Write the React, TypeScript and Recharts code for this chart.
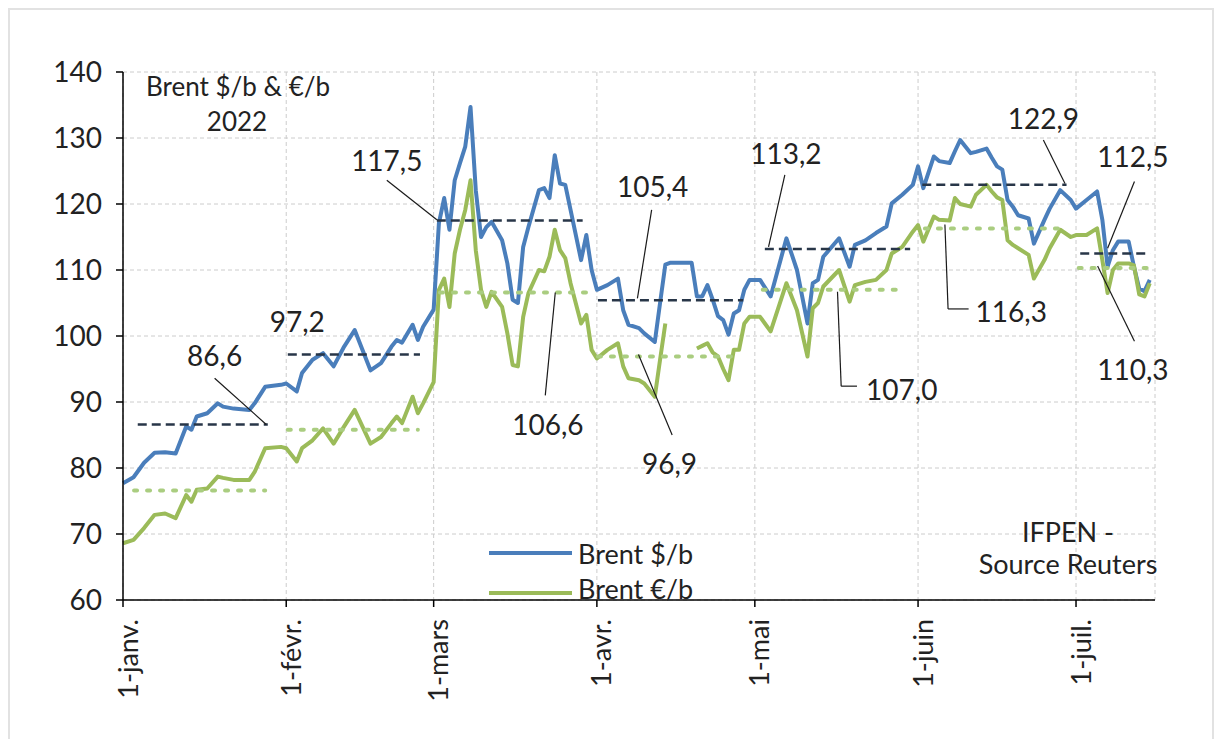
import React from 'react';
import { LineChart, Line, XAxis, YAxis, CartesianGrid, ReferenceLine, ReferenceDot } from 'recharts';

// day of year (0 = 1 janv. 2022)
const days = [
  0, 2, 4, 6, 8, 10, 12, 13, 14, 16, 18, 19, 21, 24, 25, 27, 30, 31, 33, 34, 36, 38, 40, 42, 44, 47, 49, 51, 52, 53,
  55, 56, 57, 59, 60, 61, 62, 63, 64, 65, 66, 67, 68, 69, 70, 72, 73, 74, 75, 76, 77, 79, 80, 81, 82, 83, 84, 85, 87, 88,
  89, 90, 92, 94, 95, 96, 98, 99, 101, 102, 103, 104, 108, 109, 110, 111, 112, 113, 114, 115, 116, 117, 118, 119, 121, 123, 126, 128, 130, 131,
  132, 133, 136, 138, 139, 141, 143, 145, 146, 148, 150, 151, 152, 154, 155, 157, 158, 159, 161, 162, 164, 165, 166, 167, 168, 169, 170, 172, 173, 175,
  176, 178, 180, 181, 183, 185, 186, 187, 188, 189, 191, 192, 193, 194, 195,
];

const usd = [
  77.7, 78.6, 80.8, 82.3, 82.4, 82.2, 86.3, 85.8, 87.8, 88.3, 89.8, 89.3, 89.0, 88.8, 89.8, 92.3, 92.6, 92.8, 91.6, 94.4, 96.4, 97.4, 95.4, 98.4, 100.9, 94.8, 95.9, 98.4, 99.4, 99.0,
  101.7, 99.4, 101.4, 104.0, 117.1, 120.9, 116.1, 123.6, 126.2, 128.7, 134.7, 122.1, 115.0, 116.5, 117.3, 114.5, 111.0, 105.5, 105.0, 113.5, 116.5, 122.1, 122.4, 120.9, 127.4, 123.1, 122.9, 119.1, 111.5, 115.3,
  110.0, 107.0, 107.7, 108.7, 103.9, 101.7, 101.2, 100.4, 99.1, 105.0, 110.8, 111.1, 111.1, 106.0, 106.0, 107.7, 105.5, 103.0, 102.4, 100.2, 103.4, 103.9, 107.0, 108.5, 108.5, 106.0, 114.8, 110.0, 101.9, 108.0,
  108.5, 112.0, 114.8, 110.5, 113.8, 114.5, 115.6, 116.6, 120.1, 121.4, 122.9, 125.7, 122.4, 127.2, 126.5, 126.2, 128.0, 129.7, 127.7, 127.9, 128.4, 127.0, 125.7, 125.2, 120.6, 119.6, 118.3, 117.8, 114.0, 117.6,
  119.3, 122.1, 120.6, 119.3, 120.6, 121.9, 117.6, 110.5, 113.0, 114.3, 114.3, 110.5, 107.2, 106.8, 108.5,
];

const eur = [
  68.6, 69.1, 70.9, 72.9, 73.1, 72.4, 75.9, 74.9, 76.7, 76.9, 78.7, 78.5, 78.2, 78.2, 79.4, 83.0, 83.2, 83.0, 81.0, 83.0, 84.2, 86.0, 83.7, 86.3, 88.8, 83.7, 84.7, 86.8, 87.8, 86.8,
  90.8, 88.3, 89.8, 93.0, 107.0, 108.7, 104.4, 112.5, 116.1, 119.1, 123.6, 113.0, 107.0, 104.4, 106.7, 104.4, 100.4, 95.6, 95.4, 102.9, 106.5, 110.0, 109.8, 112.0, 116.1, 113.0, 111.8, 108.0, 101.9, 103.2,
  97.9, 96.6, 97.9, 98.9, 95.4, 93.6, 93.3, 92.8, 90.8, 96.4, 101.9, null, null, 98.1, 98.5, 98.9, 97.5, 96.9, 95.0, 93.3, 97.9, 97.9, 101.9, 102.9, 102.9, 100.7, 108.0, 103.9, 96.9, 104.2,
  105.0, 107.5, 110.0, 105.2, 107.7, 108.2, 108.5, 110.0, 112.5, 113.5, 115.8, 116.8, 114.3, 118.1, 117.6, 117.5, 120.9, 120.0, 119.6, 121.4, 122.9, 121.9, 121.0, 120.6, 114.5, 113.8, 113.3, 112.3, 108.7, 111.5,
  113.3, 116.1, 115.0, 115.3, 115.3, 116.3, 111.5, 106.5, 110.0, 111.0, 111.0, 110.7, 106.3, 106.0, 108.0,
];

const monthTicks = [0, 31, 59, 90, 120, 151, 181];
const monthLabels = ['1-janv.', '1-févr.', '1-mars', '1-avr.', '1-mai', '1-juin', '1-juil.'];
const yTicks = [60, 70, 80, 90, 100, 110, 120, 130, 140];

// monthly averages and the day span each one covers
const usdAvg = [86.6, 97.2, 117.5, 105.4, 113.2, 122.9, 112.5];
const usdAvgFrom = [2.8, 31.3, 59.6, 90.2, 121.9, 151.8, 181.8];
const usdAvgTo = [27.5, 56.4, 87.3, 117.8, 149.5, 179.2, 195.1];
const eurAvg = [76.6, 85.8, 106.6, 96.9, 107.0, 116.3, 110.3];
const eurAvgFrom = [2.1, 31.3, 60.2, 90.2, 121.5, 152.3, 181.5];
const eurAvgTo = [27.0, 56.0, 88.7, 116.8, 148.1, 177.9, 194.5];

// value callouts: text, anchor (day, value), leader line points
const callouts: { text: string; x: number; y: number; leader: [number, number][] }[] = [
  { text: '86,6', x: 17.4, y: 97.1, leader: [[17.4, 93.6], [27.2, 86.6]] },
  { text: '97,2', x: 33.1, y: 102.3, leader: [] },
  { text: '117,5', x: 50.1, y: 126.7, leader: [[50.1, 123.6], [59.6, 117.6]] },
  { text: '106,6', x: 80.7, y: 86.6, leader: [[80.2, 91.0], [82.1, 106.6]] },
  { text: '105,4', x: 100.6, y: 122.7, leader: [[100.4, 119.1], [97.7, 105.7]] },
  { text: '96,9', x: 103.8, y: 80.7, leader: [[97.9, 97.2], [104.3, 85.0]] },
  { text: '113,2', x: 125.9, y: 127.8, leader: [[125.7, 124.4], [122.6, 113.5]] },
  { text: '107,0', x: 147.9, y: 91.9, leader: [[135.7, 106.7], [136.4, 92.4], [139.4, 92.4]] },
  { text: '122,9', x: 174.8, y: 133.0, leader: [[174.8, 129.7], [178.9, 123.1]] },
  { text: '116,3', x: 168.7, y: 103.8, leader: [[156.1, 116.9], [156.7, 104.1], [160.6, 104.1]] },
  { text: '112,5', x: 191.8, y: 127.2, leader: [[192.1, 123.4], [187.0, 113.3]] },
  { text: '110,3', x: 191.8, y: 95.0, leader: [[185.1, 110.6], [192.1, 99.2]] },
];

const data = days.map((d, i) => ({ day: d, usd: usd[i], eur: eur[i] }));

const FONT = 'Lato, "Open Sans", sans-serif';
const TEXT = '#222222';
const BLUE = '#4a7ebb';
const GREEN = '#9bbb59';

function MonthTick(props: any) {
  const { x, y, payload } = props;
  const label = monthLabels[monthTicks.indexOf(payload.value)];
  const tx = x + 4;
  const ty = y + 10;
  return (
    <text
      x={tx}
      y={ty}
      transform={`rotate(-90, ${tx}, ${ty})`}
      textAnchor="end"
      dominantBaseline="central"
      fontSize={27}
      fontFamily={FONT}
      fill={TEXT}
    >
      {label}
    </text>
  );
}

const overlay = (left: number, top: number, width: number, size: number): React.CSSProperties => ({
  position: 'absolute',
  left,
  top,
  width,
  fontFamily: FONT,
  fontSize: size,
  color: TEXT,
  lineHeight: '32px',
  whiteSpace: 'nowrap',
});

export default function App() {
  return (
    <div style={{ position: 'absolute', left: 0, top: 0, width: 1220, height: 739, background: '#fff' }}>
      <div
        style={{
          position: 'absolute',
          left: 8,
          top: 8,
          width: 1206,
          height: 731,
          border: '2px solid #e2e2e2',
          borderBottom: 'none',
          boxSizing: 'border-box',
        }}
      />
      <LineChart width={1220} height={739} data={data} margin={{ top: 72, right: 65, bottom: 19, left: 0 }}>
        <CartesianGrid strokeDasharray="4 3" stroke="#cccccc" />
        <XAxis
          dataKey="day"
          type="number"
          domain={[0, 196]}
          ticks={monthTicks}
          tick={<MonthTick />}
          tickSize={7}
          height={120}
          axisLine={{ stroke: '#000', strokeWidth: 1.5 }}
          tickLine={{ stroke: '#000', strokeWidth: 1.5 }}
          interval={0}
        />
        <YAxis
          type="number"
          domain={[60, 140]}
          ticks={yTicks}
          width={123}
          tickSize={7}
          tickMargin={14}
          tick={{ fontSize: 28, fontFamily: FONT, fill: TEXT }}
          axisLine={{ stroke: '#000', strokeWidth: 1.5 }}
          tickLine={{ stroke: '#000', strokeWidth: 1.5 }}
          interval={0}
        />
        <Line
          type="linear"
          dataKey="usd"
          stroke={BLUE}
          strokeWidth={4}
          strokeLinejoin="round"
          dot={false}
          activeDot={false}
          isAnimationActive={false}
        />
        <Line
          type="linear"
          dataKey="eur"
          stroke={GREEN}
          strokeWidth={4}
          strokeLinejoin="round"
          dot={false}
          activeDot={false}
          connectNulls={false}
          isAnimationActive={false}
        />
        {usdAvg.map((v, i) => (
          <ReferenceLine
            key={`ua${i}`}
            segment={[{ x: usdAvgFrom[i], y: v }, { x: usdAvgTo[i], y: v }]}
            stroke="#283648"
            strokeWidth={2.5}
            strokeDasharray="9 5"
          />
        ))}
        {eurAvg.map((v, i) => (
          <ReferenceLine
            key={`ea${i}`}
            segment={[{ x: eurAvgFrom[i], y: v }, { x: eurAvgTo[i], y: v }]}
            stroke="#aacd80"
            strokeWidth={4}
            strokeDasharray="3 10"
            strokeLinecap="round"
          />
        ))}
        {callouts.map((c, i) =>
          c.leader.slice(1).map((p, j) => (
            <ReferenceLine
              key={`ld${i}-${j}`}
              segment={[{ x: c.leader[j][0], y: c.leader[j][1] }, { x: p[0], y: p[1] }]}
              stroke="#1a1a1a"
              strokeWidth={1.2}
            />
          ))
        )}
        {callouts.map((c, i) => (
          <ReferenceDot
            key={`lb${i}`}
            x={c.x}
            y={c.y}
            r={0}
            shape={(p: any) => (
              <text
                x={p.cx}
                y={p.cy}
                textAnchor="middle"
                dominantBaseline="central"
                fontSize={28}
                fontFamily={FONT}
                fill={TEXT}
              >
                {c.text}
              </text>
            )}
          />
        ))}
      </LineChart>

      <div style={{ ...overlay(88, 70, 300, 26), textAlign: 'center' }}>Brent $/b &amp; €/b</div>
      <div style={{ ...overlay(87, 105, 300, 26), textAlign: 'center' }}>2022</div>

      <div style={{ ...overlay(918, 516, 300, 27), textAlign: 'center' }}>IFPEN -</div>
      <div style={{ ...overlay(918, 548, 300, 27), textAlign: 'center' }}>Source Reuters</div>

      <div style={{ position: 'absolute', left: 489, top: 551, width: 83, height: 4, background: BLUE }} />
      <div style={{ ...overlay(578, 538, 200, 27) }}>Brent $/b</div>
      <div style={{ position: 'absolute', left: 489, top: 591, width: 83, height: 4, background: GREEN }} />
      <div style={{ ...overlay(578, 573, 200, 27) }}>Brent €/b</div>
    </div>
  );
}
